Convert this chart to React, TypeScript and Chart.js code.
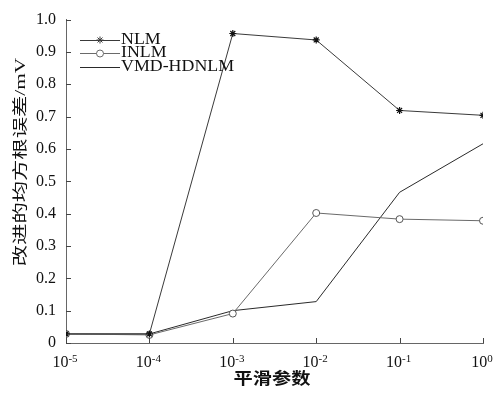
import React, { useEffect, useRef } from "react";
import { Chart, registerables } from "chart.js";

Chart.register(...registerables);

const xValues = [1e-5, 1e-4, 1e-3, 1e-2, 1e-1, 1];
const xTickExps = [-5, -4, -3, -2, -1, 0];
const nlmValues = [0.028, 0.028, 0.957, 0.937, 0.719, 0.704];
const inlmValues = [0.028, 0.025, 0.091, 0.402, 0.383, 0.378];
const vmdValues = [0.028, 0.028, 0.1, 0.128, 0.466, 0.616];
const seriesNames = ["NLM", "INLM", "VMD-HDNLM"];
const xTitle = "平滑参数";
const yTitle = "改进的均方根误差/mV";

const SERIF = "'Liberation Serif', 'Noto Sans CJK SC', serif";
const colors = ["#3a3a3a", "#6a6a6a", "#2a2a2a"];

function drawScaledText(ctx: CanvasRenderingContext2D, text: string, x: number, y: number, font: string, sx: number, align: CanvasTextAlign, rotate = 0) {
  ctx.save();
  ctx.translate(x, y);
  if (rotate) ctx.rotate(rotate);
  ctx.scale(sx, 1);
  ctx.font = font;
  ctx.textAlign = align;
  ctx.textBaseline = "middle";
  ctx.fillStyle = "#111";
  ctx.fillText(text, 0, 0);
  ctx.restore();
}

const decorPlugin = {
  id: "decor",
  afterDraw(chart: any) {
    const ctx: CanvasRenderingContext2D = chart.ctx;
    const xs = chart.scales.x;
    const ys = chart.scales.y;
    const area = chart.chartArea;
    ctx.save();
    ctx.strokeStyle = "#444";
    ctx.lineWidth = 1;
    ctx.setLineDash([]);
    xTickExps.forEach((e) => {
      const px = Math.round(xs.getPixelForValue(Math.pow(10, e))) + 0.5;
      ctx.beginPath();
      ctx.moveTo(px, area.bottom);
      ctx.lineTo(px, area.bottom - 5);
      ctx.stroke();
    });
    ys.ticks.forEach((t: any) => {
      const py = Math.round(ys.getPixelForValue(t.value)) + 0.5;
      ctx.beginPath();
      ctx.moveTo(area.left, py);
      ctx.lineTo(area.left + 5, py);
      ctx.stroke();
    });
    ctx.fillStyle = "#111";
    ctx.textBaseline = "alphabetic";
    xTickExps.forEach((e) => {
      const px = xs.getPixelForValue(Math.pow(10, e));
      ctx.font = `16px ${SERIF}`;
      const base = "10";
      const bw = ctx.measureText(base).width;
      ctx.font = `11px ${SERIF}`;
      const sup = e === 0 ? "0" : `-${Math.abs(e)}`;
      const sw = ctx.measureText(sup).width;
      const start = px - (bw + sw) / 2 - 1;
      ctx.font = `16px ${SERIF}`;
      ctx.textAlign = "left";
      ctx.fillText(base, start, 367);
      ctx.font = `11px ${SERIF}`;
      ctx.fillText(sup, start + bw, 362);
    });
    const rows = [40, 53, 67];
    const styles = ["star", "circle", "none"];
    rows.forEach((ry, i) => {
      ctx.strokeStyle = colors[i];
      ctx.lineWidth = 1;
      ctx.beginPath();
      ctx.moveTo(80, ry + 0.5);
      ctx.lineTo(120, ry + 0.5);
      ctx.stroke();
      if (styles[i] === "star") {
        ctx.beginPath();
        const r = 3.5;
        ctx.moveTo(100, ry - r); ctx.lineTo(100, ry + r);
        ctx.moveTo(100 - r, ry); ctx.lineTo(100 + r, ry);
        const d = r * 0.707;
        ctx.moveTo(100 - d, ry - d); ctx.lineTo(100 + d, ry + d);
        ctx.moveTo(100 - d, ry + d); ctx.lineTo(100 + d, ry - d);
        ctx.stroke();
      } else if (styles[i] === "circle") {
        ctx.beginPath();
        ctx.fillStyle = "#fff";
        ctx.arc(100, ry + 0.5, 3.5, 0, Math.PI * 2);
        ctx.fill();
        ctx.stroke();
      }
      drawScaledText(ctx, seriesNames[i], 121, ry, `17px ${SERIF}`, 1.05, "left");
    });
    drawScaledText(ctx, xTitle, 272, 380, `bold 16px ${SERIF}`, 1.2, "center");
    drawScaledText(ctx, yTitle, 21, 162, `15px ${SERIF}`, 1.42, "center", -Math.PI / 2);
    ctx.restore();
  },
};

export default function App() {
  const ref = useRef<HTMLCanvasElement | null>(null);
  useEffect(() => {
    document.body.style.margin = "0";
    const canvas = ref.current;
    if (!canvas) return;
    const mk = (vals: number[]) => xValues.map((x, i) => ({ x, y: vals[i] }));
    const chart = new Chart(canvas, {
      type: "line",
      data: {
        datasets: [
          {
            label: seriesNames[0],
            data: mk(nlmValues),
            borderColor: colors[0],
            borderWidth: 1,
            pointStyle: "star",
            pointRadius: 3.5,
            pointBorderColor: "#111",
            pointBorderWidth: 1.2,
            fill: false,
          },
          {
            label: seriesNames[1],
            data: mk(inlmValues),
            borderColor: colors[1],
            borderWidth: 1,
            pointStyle: "circle",
            pointRadius: 3.5,
            pointBackgroundColor: "#fff",
            pointBorderColor: "#555",
            pointBorderWidth: 1,
            fill: false,
          },
          {
            label: seriesNames[2],
            data: mk(vmdValues),
            borderColor: colors[2],
            borderWidth: 1,
            pointRadius: 0,
            fill: false,
          },
        ],
      },
      options: {
        animation: false,
        responsive: false,
        maintainAspectRatio: false,
        events: [],
        layout: { padding: { top: 15, right: 14, left: 0, bottom: 0 } },
        plugins: { legend: { display: false }, tooltip: { enabled: false } },
        scales: {
          x: {
            type: "logarithmic",
            min: 1e-5,
            max: 1,
            afterBuildTicks: (s: any) => {
              s.ticks = xTickExps.map((e) => ({ value: Math.pow(10, e) }));
            },
            afterFit: (s: any) => {
              s.height = 53;
            },
            ticks: { display: false },
            grid: { display: false },
            border: { display: true, color: "#666", dash: [3, 2], width: 1 },
          },
          y: {
            min: 0,
            max: 1,
            afterFit: (s: any) => {
              s.width = 66;
            },
            ticks: {
              stepSize: 0.1,
              padding: 10,
              color: "#111",
              font: { family: SERIF, size: 16 },
              callback: (v: any) => (Number(v) === 0 ? "0" : Number(v).toFixed(1)),
            },
            grid: { display: false, drawTicks: false },
            border: { display: true, color: "#666", dash: [3, 2], width: 1 },
          },
        },
      },
      plugins: [decorPlugin],
    } as any);
    return () => chart.destroy();
  }, []);
  return (
    <div style={{ width: 497, height: 396, background: "#fff" }}>
      <canvas ref={ref} width={497} height={396} style={{ display: "block" }} />
    </div>
  );
}
